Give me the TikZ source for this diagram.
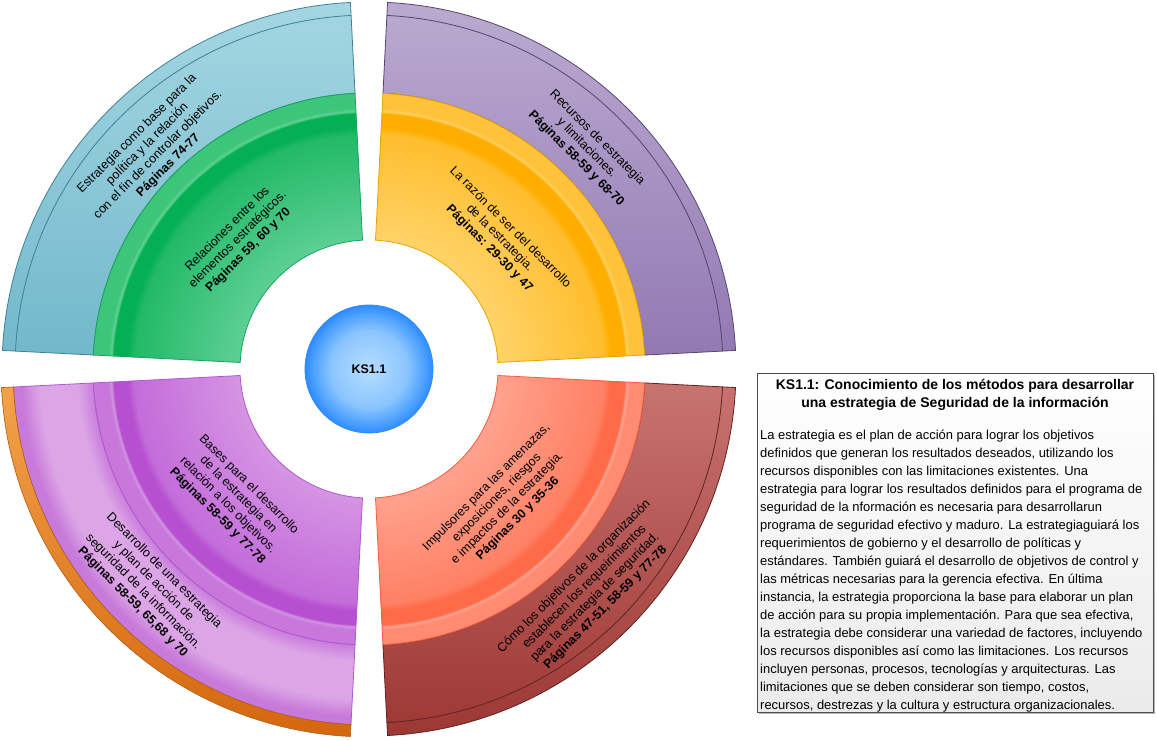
\documentclass[tikz,border=0pt]{standalone}
\usepackage{fontspec}
\setmainfont{Liberation Sans}
\usepackage{tikz}
\usetikzlibrary{shadows}
\tikzset{>=latex}

% colours of the rings
\definecolor{grnA}{HTML}{5DCF93}
\definecolor{grnB}{HTML}{22B968}
\definecolor{grnC}{HTML}{05B055}
\definecolor{grnD}{HTML}{62D395}
\definecolor{grnE}{HTML}{3DC57B}
\definecolor{grnLine}{HTML}{17A35B}
\definecolor{ylwA}{HTML}{FFD369}
\definecolor{ylwB}{HTML}{FFBD2E}
\definecolor{ylwC}{HTML}{FFAE00}
\definecolor{ylwD}{HTML}{FFD263}
\definecolor{ylwE}{HTML}{FFC23A}
\definecolor{ylwLine}{HTML}{E9A300}
\definecolor{redA}{HTML}{FFA28E}
\definecolor{redB}{HTML}{FF8064}
\definecolor{redC}{HTML}{FF6A48}
\definecolor{redD}{HTML}{FFA593}
\definecolor{redE}{HTML}{FF8B72}
\definecolor{redLine}{HTML}{FF5A3A}
\definecolor{vioA}{HTML}{D594E3}
\definecolor{vioB}{HTML}{C36CDA}
\definecolor{vioC}{HTML}{B650D0}
\definecolor{vioD}{HTML}{D496E4}
\definecolor{vioE}{HTML}{C877DB}
\definecolor{vioLine}{HTML}{B257D0}
\definecolor{lilA}{HTML}{C97DDC}
\definecolor{lilB}{HTML}{DCA5E6}
\definecolor{lilC}{HTML}{C77AD9}
\definecolor{bluTop}{HTML}{A4D6E2}
\definecolor{bluBot}{HTML}{72B8CB}
\definecolor{bluLine}{HTML}{3E8194}
\definecolor{purTop}{HTML}{BAAAD0}
\definecolor{purBot}{HTML}{9279B3}
\definecolor{purLine}{HTML}{55456E}
\definecolor{brnTop}{HTML}{C87370}
\definecolor{brnBot}{HTML}{9D3734}
\definecolor{brnLine}{HTML}{5C2321}
\definecolor{orgTop}{HTML}{F3A24A}
\definecolor{orgBot}{HTML}{D4670F}
\definecolor{orgLine}{HTML}{B35A12}
\definecolor{hubA}{HTML}{B7DDFF}
\definecolor{hubB}{HTML}{8AC5FF}
\definecolor{hubC}{HTML}{4A9FFF}
\definecolor{hubD}{HTML}{2E8CFF}

% radial shading of an inner ring part (radius 276 = 25bp)
\newcommand{\ringshading}[6]{\pgfdeclareradialshading{#1}{\pgfpoint{0bp}{0bp}}{color(0bp)=(#2); color(11.68bp)=(#2); color(21.29bp)=(#3); color(21.92bp)=(#4); color(23.19bp)=(#4); color(23.37bp)=(#5); color(23.64bp)=(#6); color(25bp)=(#6); color(50bp)=(#6)}}
\ringshading{grnshade}{grnA}{grnB}{grnC}{grnD}{grnE}
\ringshading{ylwshade}{ylwA}{ylwB}{ylwC}{ylwD}{ylwE}
\ringshading{redshade}{redA}{redB}{redC}{redD}{redE}
\ringshading{vioshade}{vioA}{vioB}{vioC}{vioD}{vioE}
% outer lilac part (radius 356 = 25bp)
\pgfdeclareradialshading{lilshade}{\pgfpoint{0bp}{0bp}}{color(0bp)=(lilA); color(19.38bp)=(lilA); color(20.51bp)=(lilB); color(23.17bp)=(lilB); color(24.44bp)=(lilC); color(25bp)=(lilC); color(50bp)=(lilC)}
\pgfdeclareradialshading{hubshade}{\pgfpoint{0bp}{0bp}}{color(0bp)=(hubA); color(15bp)=(hubB); color(22bp)=(hubC); color(25bp)=(hubD); color(50bp)=(hubD)}

% ring part: angles #1,#2, radii #3,#4
\newcommand{\ringpath}[4]{(#1:#3) arc[start angle=#1,end angle=#2,radius=#3] -- (#2:#4) arc[start angle=#2,end angle=#1,radius=#4] -- cycle}
\newcommand{\ringshade}[6]{%
  \begin{scope}
    \clip \ringpath{#1}{#2}{#3}{#4};
    \shade[shading=#5] (0,0) circle[radius=#4];
  \end{scope}
  \draw[#6,line width=0.8pt] \ringpath{#1}{#2}{#3}{#4};}

\tikzset{
  sectortext/.style={align=center,text=black,inner sep=0pt,font=\fontsize{12.5}{14.8}\selectfont},
  hub/.style={circle,minimum size=128pt,inner sep=0pt,shading=hubshade,draw=hubD,line width=0.8pt,font=\fontsize{12.5}{15}\selectfont\bfseries},
  infoframe/.style={rectangle,draw=black!70,line width=0.8pt,top color=white,bottom color=black!8,inner sep=0pt,drop shadow={shadow xshift=2pt,shadow yshift=-2pt,fill=black!40,opacity=.7}},
  infohead/.style={align=center,inner sep=0pt,font=\fontsize{14}{18}\selectfont\bfseries},
  infotext/.style={align=left,inner sep=0pt,font=\fontsize{12.95}{18}\selectfont}
}

\begin{document}
\begin{tikzpicture}[x=1pt,y=1pt]
  \useasboundingbox (0,0) rectangle (1157,741);
  \begin{scope}[shift={(369,372)}]
    % outer ring
    \draw[bluLine,top color=bluTop,bottom color=bluBot,line width=0.8pt] \ringpath{92.9}{177.1}{276}{367};
    \draw[bluLine,line width=0.8pt] (92.9:354) arc[start angle=92.9,end angle=177.1,radius=354];
    \draw[purLine,top color=purTop,bottom color=purBot,line width=0.8pt] \ringpath{2.9}{87.1}{276}{367};
    \draw[purLine,line width=0.8pt] (2.9:354) arc[start angle=2.9,end angle=87.1,radius=354];
    \draw[brnLine,top color=brnTop,bottom color=brnBot,line width=0.8pt] \ringpath{-87.1}{-2.9}{276}{367};
    \draw[brnLine,line width=0.8pt] (-87.1:354) arc[start angle=-87.1,end angle=-2.9,radius=354];
    \ringshade{182.9}{267.1}{276}{356}{lilshade}{vioLine}
    \draw[orgLine,top color=orgTop,bottom color=orgBot,line width=0.6pt] \ringpath{182.9}{267.1}{356}{368};
    % inner ring
    \ringshade{92.9}{177.1}{129}{276}{grnshade}{grnLine}
    \ringshade{2.9}{87.1}{129}{276}{ylwshade}{ylwLine}
    \ringshade{-87.1}{-2.9}{129}{276}{redshade}{redLine}
    \ringshade{182.9}{267.1}{129}{276}{vioshade}{vioLine}
    % centre
    \node[hub] (hub) at (0,0) {KS1.1};
    % texts
    \node[sectortext,rotate=45] (strat) at (134.6:308) {Estrategia como base para la\\ política y la relación\\ con el fin de controlar objetivos.\\ \textbf{Páginas 74-77}};
    \node[sectortext,rotate=45] (relac) at (135.4:184) {Relaciones entre los\\ elementos estratégicos.\\ \textbf{Páginas 59, 60 y 70}};
    \node[sectortext,rotate=-45] (razon) at (45:185) {La razón de ser del desarrollo\\ de la estrategia.\\ \textbf{Páginas: 29-30 y 47}};
    \node[sectortext,rotate=-45] (recur) at (45.4:310) {Recursos de estrategia\\ y limitaciones.\\ \textbf{Páginas 58-59 y 68-70}};
    \node[sectortext,rotate=-45] (bases) at (224:189) {Bases para el desarrollo\\ de la estrategia en\\ relación a los objetivos.\\ \textbf{Páginas 58-59 y 77-78}};
    \node[sectortext,rotate=-45] (desar) at (224.6:310) {Desarrollo de una estrategia\\ y plan de acción de\\ seguridad de la información.\\ \textbf{Páginas 58-59, 65,68 y 70}};
    \node[sectortext,rotate=45] (impul) at (-45.2:189) {Impulsores para las amenazas,\\ exposiciones, riesgos\\ e impactos de la estrategia.\\ \textbf{Páginas 30 y 35-36}};
    \node[sectortext,rotate=45] (objet) at (-45.3:314) {Cómo los objetivos de la organización\\ establecen los requeirimientos\\ para la estrategia de seguridad.\\ \textbf{Páginas 47-51, 58-59 y 77-78}};
  \end{scope}
  % panel on the right
  \node[infoframe,anchor=north west,minimum width=396pt,minimum height=339pt] (infobox) at (757,368) {};
  \node[infohead,anchor=base] (infotitle) at (955,333) {KS1.1: Conocimiento de los métodos para desarrollar\\ una estrategia de Seguridad de la información};
  \node[infotext,anchor=base west] (infobody) at (760,31) {La estrategia es el plan de acción para lograr los objetivos\\
definidos que generan los resultados deseados, utilizando los\\
recursos disponibles con las limitaciones existentes. Una\\
estrategia para lograr los resultados definidos para el programa de\\
seguridad de la nformación es necesaria para desarrollarun\\
programa de seguridad efectivo y maduro. La estrategiaguiará los\\
requerimientos de gobierno y el desarrollo de políticas y\\
estándares. También guiará el desarrollo de objetivos de control y\\
las métricas necesarias para la gerencia efectiva. En última\\
instancia, la estrategia proporciona la base para elaborar un plan\\
de acción para su propia implementación. Para que sea efectiva,\\
la estrategia debe considerar una variedad de factores, incluyendo\\
los recursos disponibles así como las limitaciones. Los recursos\\
incluyen personas, procesos, tecnologías y arquitecturas. Las\\
limitaciones que se deben considerar son tiempo, costos,\\
recursos, destrezas y la cultura y estructura organizacionales.};
\end{tikzpicture}
\end{document}
